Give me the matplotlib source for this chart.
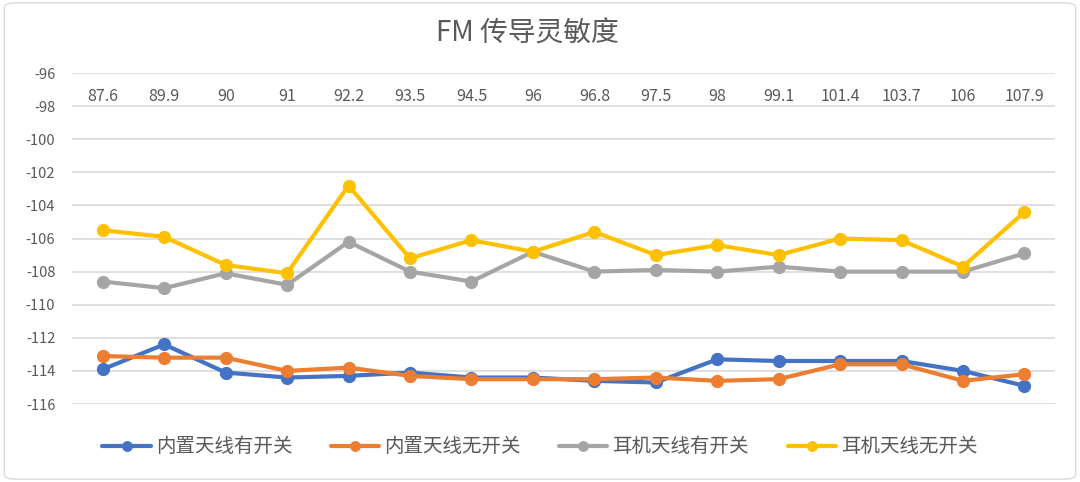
import matplotlib
matplotlib.use("Agg")
import matplotlib.pyplot as plt
from matplotlib.patches import FancyBboxPatch

plt.rcParams['font.family'] = ['Noto Sans CJK SC', 'DejaVu Sans']

# data
categories = ["87.6", "89.9", "90", "91", "92.2", "93.5", "94.5", "96",
              "96.8", "97.5", "98", "99.1", "101.4", "103.7", "106", "107.9"]
builtin_switch = [-113.9, -112.4, -114.1, -114.4, -114.3, -114.1, -114.4, -114.4,
                  -114.6, -114.7, -113.3, -113.4, -113.4, -113.4, -114.0, -114.9]
builtin_noswitch = [-113.1, -113.2, -113.2, -114.0, -113.8, -114.3, -114.5, -114.5,
                    -114.5, -114.4, -114.6, -114.5, -113.6, -113.6, -114.6, -114.2]
earphone_switch = [-108.6, -109.0, -108.1, -108.8, -106.2, -108.0, -108.6, -106.8,
                   -108.0, -107.9, -108.0, -107.7, -108.0, -108.0, -108.0, -106.9]
earphone_noswitch = [-105.5, -105.9, -107.6, -108.1, -102.8, -107.2, -106.1, -106.8,
                     -105.6, -107.0, -106.4, -107.0, -106.0, -106.1, -107.7, -104.4]
series_names = ["内置天线有开关", "内置天线无开关", "耳机天线有开关", "耳机天线无开关"]
colors = ["#4472C4", "#ED7D31", "#A5A5A5", "#FFC000"]
yticks = list(range(-116, -95, 2))

fig = plt.figure(figsize=(10.8, 4.82), dpi=100)
ax = fig.add_axes([0.0667, 0.1618, 0.9103, 0.6867])

x = list(range(len(categories)))
for vals, name, c in zip([builtin_switch, builtin_noswitch, earphone_switch, earphone_noswitch],
                         series_names, colors):
    ax.plot(x, vals, color=c, lw=3, marker='o', ms=8.5, label=name,
            solid_capstyle='round', solid_joinstyle='round')

ax.set_xlim(-0.5, len(categories) - 0.5)
ax.set_ylim(-116, -96)
ax.set_yticks(yticks)
ax.set_yticklabels([str(t) for t in yticks])
ax.set_xticks([])
ax.tick_params(axis='y', length=0, labelsize=10.5, labelcolor='#595959', pad=12)
ax.grid(axis='y', color='#D9D9D9', lw=1.2)
ax.set_axisbelow(True)
for s in ax.spines.values():
    s.set_visible(False)

# category labels sit just under the top gridline
for i, lab in enumerate(categories):
    ax.text(i, -97.4, lab, ha='center', va='center', fontsize=11.5, color='#595959')

fig.text(0.488, 0.93, "FM 传导灵敏度", ha='center', va='center', fontsize=20, color='#595959')

fig.legend(loc='center', bbox_to_anchor=(0.5, 0.073), ncol=4, frameon=False,
           fontsize=14, handlelength=2.47, columnspacing=2.0, handletextpad=0.26,
           markerscale=0.8, labelcolor='#595959')

fig.patches.append(FancyBboxPatch((0.004, 0.006), 0.992, 0.988, boxstyle="round,pad=0,rounding_size=0.01",
                                  transform=fig.transFigure, fill=False, ec='#D9D9D9', lw=1))

fig.savefig("out.png", dpi=100)
